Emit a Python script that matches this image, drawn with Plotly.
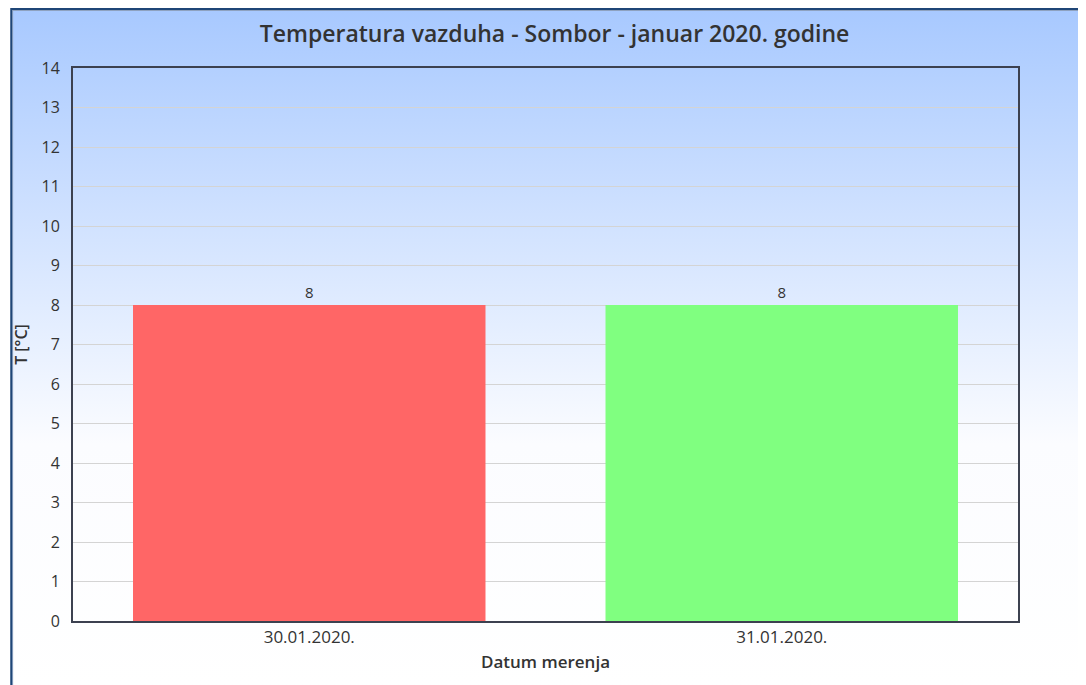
import base64
import plotly.graph_objects as go

# ---- data ----
dates = ["30.01.2020.", "31.01.2020."]
temps = [8, 8]
bar_colors = ["#ff6666", "#80ff80"]
y_ticks = list(range(0, 15))

# the page body adds an 8px offset, so the figure is slightly smaller
W, H = 1078, 677
ML, MR, MT, MB = 63, 68, 60, 64
PW, PH = W - ML - MR, H - MT - MB

svg = f'''<svg xmlns="http://www.w3.org/2000/svg" width="{W}" height="{H}" viewBox="0 0 {W} {H}" preserveAspectRatio="none">
<defs><linearGradient id="g" x1="0" y1="0" x2="0" y2="1">
<stop offset="0" stop-color="#a8c9ff"/>
<stop offset="0.64" stop-color="#fbfcff"/>
<stop offset="1" stop-color="#ffffff"/>
</linearGradient></defs>
<rect x="0" y="0" width="{W}" height="{H}" fill="#1f4677"/>
<rect x="2" y="2" width="{W}" height="{H}" fill="#8ea2c0"/>
<rect x="3" y="3" width="{W}" height="{H}" fill="url(#g)"/>
</svg>'''
src = "data:image/svg+xml;base64," + base64.b64encode(svg.encode()).decode()

fig = go.Figure()
fig.add_trace(go.Bar(
    x=dates, y=temps,
    marker=dict(color=bar_colors, line=dict(width=0)),
    text=[str(v) for v in temps], textposition="outside",
    textfont=dict(family="Open Sans", size=15, color="#333333"),
    cliponaxis=False,
    width=0.746,
))

fig.update_layout(
    width=W, height=H,
    margin=dict(l=ML, r=MR, t=MT, b=MB),
    paper_bgcolor="#ffffff",
    plot_bgcolor="rgba(0,0,0,0)",
    showlegend=False,
    font=dict(family="Open Sans", color="#333333"),
    title=dict(
        text="Temperatura vazduha - Sombor - januar 2020. godine",
        font=dict(family="Open Sans", size=23, color="#333333", weight=600),
        x=546.5 / W, xref="container", xanchor="center",
        y=1 - 26 / H, yref="container", yanchor="middle",
    ),
    images=[dict(
        source=src, xref="paper", yref="paper",
        x=-ML / PW, y=1 + MT / PH, sizex=W / PW, sizey=H / PH,
        xanchor="left", yanchor="top", sizing="stretch", layer="below",
    )],
    xaxis=dict(
        showline=True, linecolor="#3c4150", linewidth=2, mirror=True,
        showgrid=False, ticks="",
        tickfont=dict(family="Open Sans", size=17, color="#333333"),
        title=dict(text="Datum merenja",
                   font=dict(family="Open Sans", size=17, color="#333333", weight=600),
                   standoff=9),
    ),
    yaxis=dict(
        range=[0, 14], tickvals=y_ticks,
        showline=True, linecolor="#3c4150", linewidth=2, mirror=True,
        showgrid=True, gridcolor="#d4d4d4", gridwidth=1, zeroline=False,
        ticks="", ticklabelstandoff=8,
        tickfont=dict(family="Open Sans", size=16, color="#333333"),
        title=dict(text="T [°C]",
                   font=dict(family="Open Sans", size=16, color="#333333", weight=600),
                   standoff=10),
    ),
    bargap=0.254,
)

fig.write_html("out.html")
